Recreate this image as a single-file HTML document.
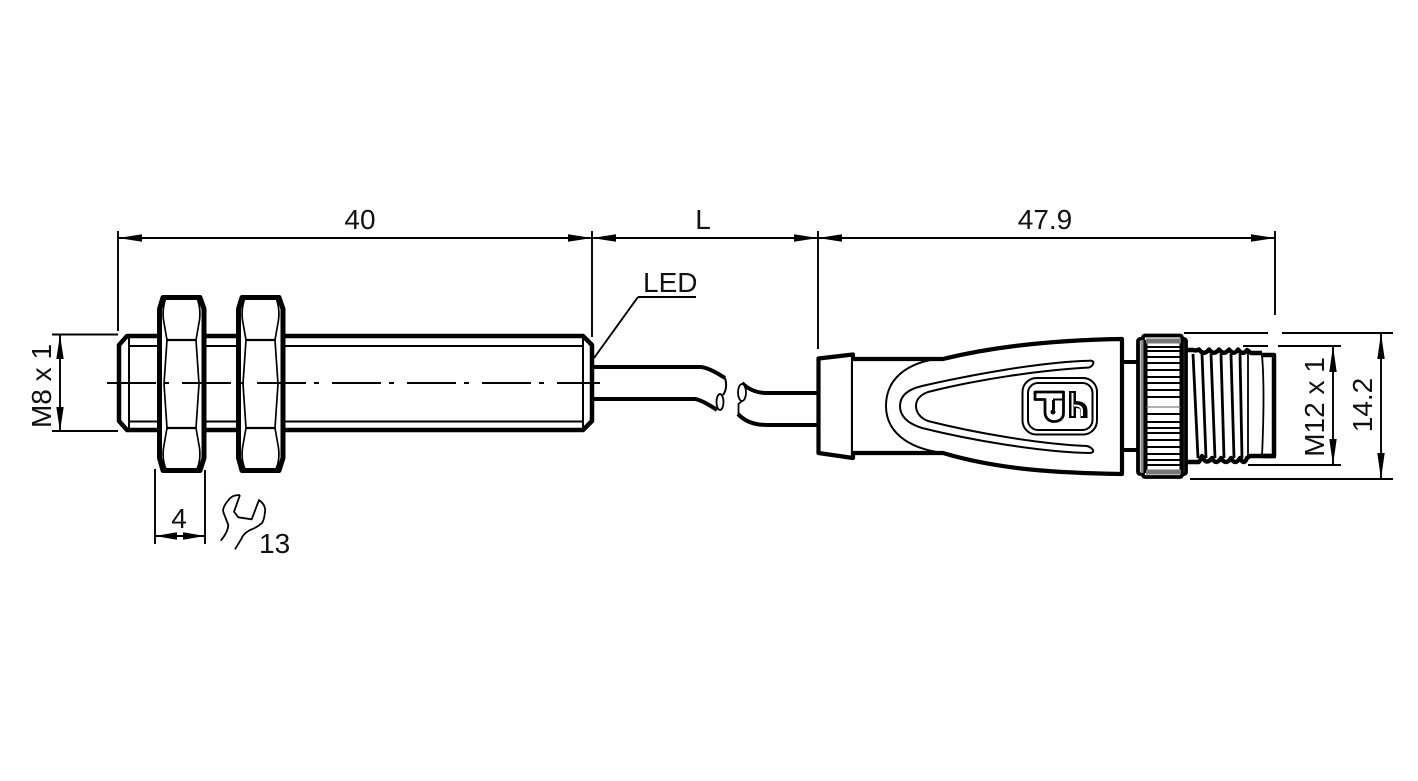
<!DOCTYPE html>
<html><head><meta charset="utf-8"><style>
html,body{margin:0;padding:0;background:#fff;width:1418px;height:781px;overflow:hidden}
svg{display:block}
text{font-family:"Liberation Sans",sans-serif;font-size:28px;fill:#111}
</style></head><body>
<svg width="1418" height="781" viewBox="0 0 1418 781" fill="none" stroke="#000" stroke-linejoin="round" stroke-linecap="butt">
<defs>
<g id="nut">
<path d="M6,2.500H43L47,14V163L43,175.500H6L2.500,163V14Z" stroke-width="5" fill="#fff"/>
<path d="M9,3Q5,13 6.500,25L10,45L7,89L10,133L6.500,153Q5,165 9,174M40,3Q44,13 42.500,25L39,45L42,89L39,133L42.500,153Q44,165 40,174" stroke-width="1.700"/>
<path d="M10,45H39M10,133H39" stroke-width="2.200"/>
</g>
</defs>

<!-- dimension lines -->
<g stroke-width="1.900">
<path d="M118,231V331M592,231V337M818,231V349M1275,231V315"/>
<path d="M118,238H1275"/>
<path d="M52,334.500H118M52,431H118M60,335V431"/>
<path d="M155,469V544M205,470V544M155,536H205"/>
<path d="M638,297H696M638,297L594,358"/>
<path d="M1184,333H1268M1282,333H1393M1190,479H1393M1381,333V479"/>
<path d="M1243,346H1268M1278,346H1341M1248,465H1341M1333,346V465"/>
</g>
<g fill="#000" stroke="none">
<path d="M118,238l24,-3.700v7.400zM592,238l-24,-3.700v7.400zM592,238l24,-3.700v7.400zM818,238l-24,-3.700v7.400zM818,238l24,-3.700v7.400zM1275,238l-24,-3.700v7.400z"/>
<path d="M60,335l-3.700,24h7.400zM60,431l-3.700,-24h7.400z"/>
<path d="M155,536l22,-3.700v7.400zM205,536l-22,-3.700v7.400z"/>
<path d="M1333,346l-3.700,26h7.400zM1333,465l-3.700,-26h7.400z"/>
<path d="M1381,333l-3.700,26h7.400zM1381,479l-3.700,-26h7.400z"/>
</g>

<!-- sensor barrel -->
<path d="M127,336H583L592,345V421L583,430H127L119,421V345Z" stroke-width="4.500" fill="#fff"/>
<path d="M129,346H583M129,421.500H583M129,336V430M583,336V430" stroke-width="2"/>
<use href="#nut" x="157" y="295"/>
<use href="#nut" x="236" y="295"/>
<path d="M107,383H600" stroke-width="1.900" stroke-dasharray="49 8 5 13"/>

<!-- cable -->
<path d="M593,367H700Q708,367 725,378M593,399H695Q702,400 717,410" stroke-width="4"/>
<path d="M725,378Q728,388 723,395" stroke-width="2"/>
<ellipse cx="720" cy="402" rx="3.500" ry="8" stroke-width="1.800" fill="#fff"/>
<path d="M742,383Q752,393 767,393H818M738,414Q748,425 767,425H818" stroke-width="4"/>
<ellipse cx="742" cy="392.500" rx="4" ry="8.500" stroke-width="1.800" fill="#fff"/>
<path d="M738.500,414V404L742,401" stroke-width="1.800"/>

<!-- connector -->
<path d="M818.500,358.500L853,354.500V458L818.500,453Z" stroke-width="4.200" fill="#fff"/>
<path d="M853,359H943C1000,345 1060,340 1122,339V474C1060,473 1000,470 943,453H853" stroke-width="4.200" fill="#fff"/>
<path d="M943,358C905,362 886,380 886,406C886,430 905,448 943,453" stroke-width="2"/>
<path d="M1089,360.700C1040,362 970,375 922,386C905,390 900,398 900,406C900,415 906,423 922,428C970,440 1040,452 1089,453Q1094,453 1093,450Q1091,447 1087,446C1040,444 975,433 928,421C920,418 916,412 916,406C916,400 920,395 928,392C975,380 1040,370 1089,367.500Q1093,366 1093.500,362.500Q1093,360.500 1089,360.700Z" stroke-width="2"/>
<rect x="1022.500" y="378" width="74.500" height="56.500" rx="14" stroke-width="2"/>
<rect x="1028" y="383" width="64.500" height="47" rx="10" stroke-width="2"/>
<path d="M1035,392H1063.500V413C1063.500,419 1059,421.500 1054,421.500C1049,421.500 1045,418 1045,412V399.500H1035Z" stroke-width="2.800" fill="#fff"/>
<path d="M1053.500,400V412" stroke-width="3"/>
<path d="M1053,399.500H1063" stroke-width="2"/>
<circle cx="1053" cy="412" r="2.500" fill="#000" stroke="none"/>
<path d="M1072.500,391V418M1072.500,405Q1084,403 1084,411V418" stroke-width="7"/>
<path d="M1072.500,393V416M1074,405.500Q1082,405 1082,411V416" stroke="#fff" stroke-width="2"/>

<path d="M1122,362H1137M1122,450H1137" stroke-width="4"/>
<rect x="1138" y="339" width="48" height="135" rx="2" stroke-width="3.800" fill="#fff"/>
<rect x="1143" y="335.500" width="39" height="141.500" rx="2" stroke-width="3.800" fill="#fff"/>
<path d="M1142,340V473" stroke="#888" stroke-width="3"/>
<path d="M1146,340V473M1181,340V473" stroke-width="3"/>
<path d="M1146,341H1181M1146,472H1181" stroke="#777" stroke-width="5"/>
<path d="M1146,347H1181M1146,351H1181M1146,357H1181M1146,363H1181M1146,370H1181M1146,377H1181M1146,383H1181M1146,390H1181M1146,397H1181M1146,414H1181M1146,422H1181M1146,428H1181M1146,433H1181M1146,440H1181M1146,447H1181M1146,454H1181M1146,460H1181M1146,465H1181" stroke-width="2"/>
<path d="M1146,407H1181" stroke="#666" stroke-width="1"/>

<!-- thread -->
<path d="M1187,350H1193Q1196,351 1199,349.500Q1204,356 1209,349.500Q1214,356 1219,349.500Q1224,356 1229,349.500Q1234,356 1238,349.500Q1243,356 1247,350L1251,353H1262" stroke-width="4.400"/>
<path d="M1187,462H1198Q1199,463 1202,456Q1206,466 1212,458Q1216,466 1221,458Q1226,466 1231,458Q1235,466 1240,458Q1244,466 1247,458L1250,456H1276" stroke-width="4.400"/>
<path d="M1193,354L1198,458M1202,354L1206,458M1211,354L1215,458M1221,354L1224,458M1231,354L1234,458M1240,354L1242,458" stroke-width="2.800"/>
<path d="M1248,352V458M1262,355Q1265,390 1262,456" stroke-width="1.800"/>
<path d="M1261,355H1274V456H1262" stroke-width="4.500"/>

<!-- wrench -->
<path d="M240,495Q233,495 230,498.300Q222,507 223.300,512Q226,519 228.300,525Q228,532 220.700,540.700M240,495L234,511.700L238.300,517.300L251.700,519.300L259,500Q266,505 265,512Q264,521 261.700,523.300Q256,528 250,530Q243,534 241.700,538.300L235,549.300" stroke-width="1.800"/>

<!-- labels -->
<g stroke="none">
<text x="360" y="229" text-anchor="middle">40</text>
<text x="703" y="229" text-anchor="middle">L</text>
<text x="1045" y="229" text-anchor="middle">47.9</text>
<text x="643" y="292">LED</text>
<text x="179" y="528" text-anchor="middle">4</text>
<text x="259" y="553">13</text>
<text transform="translate(51,386) rotate(-90)" text-anchor="middle">M8 x 1</text>
<text transform="translate(1324,407) rotate(-90)" text-anchor="middle">M12 x 1</text>
<text transform="translate(1372,405) rotate(-90)" text-anchor="middle">14.2</text>
</g>
</svg>
</body></html>
